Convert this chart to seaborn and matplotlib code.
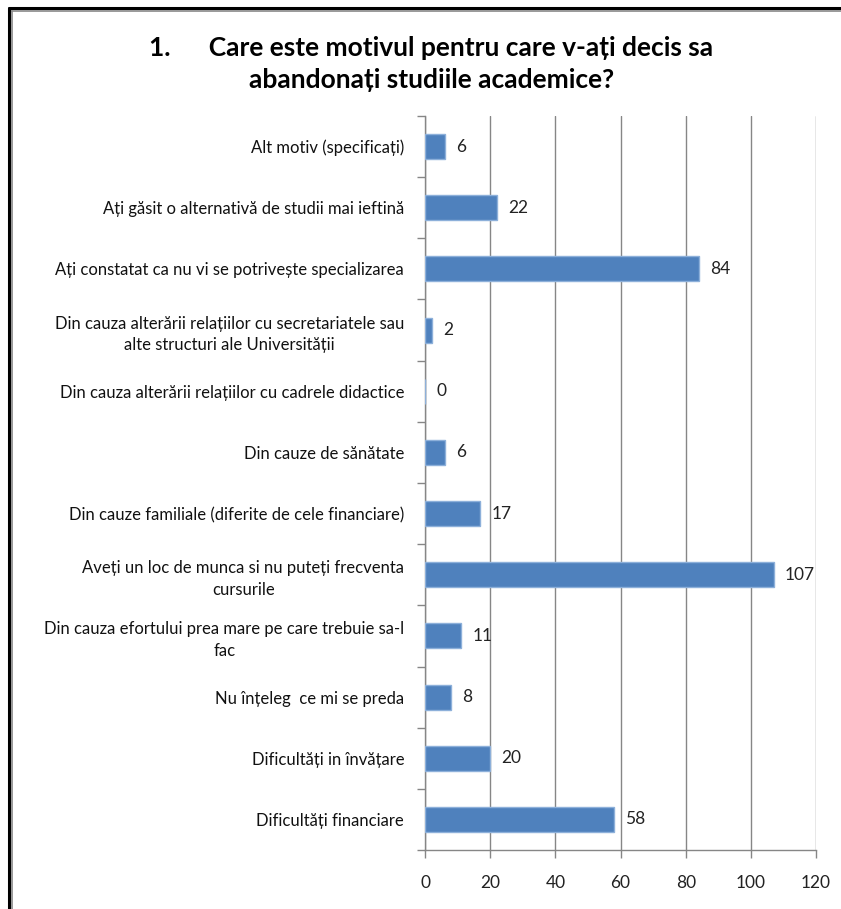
import matplotlib
matplotlib.use("Agg")
import matplotlib.pyplot as plt
import seaborn as sns
import numpy as np
from matplotlib.lines import Line2D

# data (top to bottom, as shown)
reasons = [
    "Alt motiv (specificați)",
    "Ați găsit o alternativă de studii mai ieftină",
    "Ați constatat ca nu vi se potrivește specializarea",
    "Din cauza alterării relațiilor cu secretariatele sau\nalte structuri ale Universității",
    "Din cauza alterării relațiilor cu cadrele didactice",
    "Din cauze de sănătate",
    "Din cauze familiale (diferite de cele financiare)",
    "Aveți un loc de munca si nu puteți frecventa\ncursurile",
    "Din cauza efortului prea mare pe care trebuie sa-l\nfac",
    "Nu înțeleg  ce mi se preda",
    "Dificultăți in învățare",
    "Dificultăți financiare",
]
counts = [6, 22, 84, 2, 0, 6, 17, 107, 11, 8, 20, 58]
x_ticks = [0, 20, 40, 60, 80, 100, 120]

title = "1.      Care este motivul pentru care v-ați decis sa\nabandonați studiile academice?"

sns.set_style("white")
plt.rcParams['font.family'] = ['Lato', 'DejaVu Sans']

fig = plt.figure(figsize=(8.41, 9.09), dpi=100)
ax = fig.add_axes([0.5054, 0.0649, 0.4649, 0.8075])

sns.barplot(x=counts, y=reasons, orient="h", color="#4F81BD", width=0.41,
            edgecolor="#8DB0DA", linewidth=1, saturation=1, ax=ax, zorder=3)

ax.set_xlim(0, 120)
ax.set_ylim(len(reasons) - 0.5, -0.5)
ax.set_xticks(x_ticks)
ax.set_xticklabels([str(t) for t in x_ticks], fontsize=12.5, color="#222222")
ax.tick_params(axis="x", bottom=True, length=6, width=1, color="#868686", pad=12)

ax.set_yticks(range(len(reasons)))
ax.set_yticklabels(reasons, fontsize=12, color="#111111",
                   multialignment="center", linespacing=1.45)
ax.tick_params(axis="y", which="major", left=False, length=0, pad=15)
ax.set_yticks(np.arange(-0.5, len(reasons), 1), minor=True)
ax.tick_params(axis="y", which="minor", left=True, length=6, width=1, color="#868686")

ax.xaxis.grid(True, color="#868686", linewidth=1, zorder=0)
ax.yaxis.grid(False)
for s in ["top", "right"]:
    ax.spines[s].set_visible(False)
for s in ["left", "bottom"]:
    ax.spines[s].set_color("#868686")
    ax.spines[s].set_linewidth(1)
ax.set_xlabel("")
ax.set_ylabel("")

for i, v in enumerate(counts):
    ax.text(v + 3.5, i, str(v), va="center", ha="left", fontsize=12.5, color="#222222")

fig.text(0.513, 0.930, title, ha="center", va="center", fontsize=19,
         fontweight="bold", linespacing=1.4, color="#000000")

# frame of the original screenshot
W, H = 841, 909
fig.add_artist(Line2D([9 / W, 1], [1 - 8 / H, 1 - 8 / H], color="black", linewidth=2.2))
fig.add_artist(Line2D([11 / W, 1], [1 - 10.5 / H, 1 - 10.5 / H], color="#888888", linewidth=1.2))
fig.add_artist(Line2D([9 / W, 9 / W], [0, 1 - 8 / H], color="black", linewidth=2.2))
fig.add_artist(Line2D([11.5 / W, 11.5 / W], [0, 1 - 10.5 / H], color="#888888", linewidth=1.2))

fig.savefig("out.png", dpi=100)
